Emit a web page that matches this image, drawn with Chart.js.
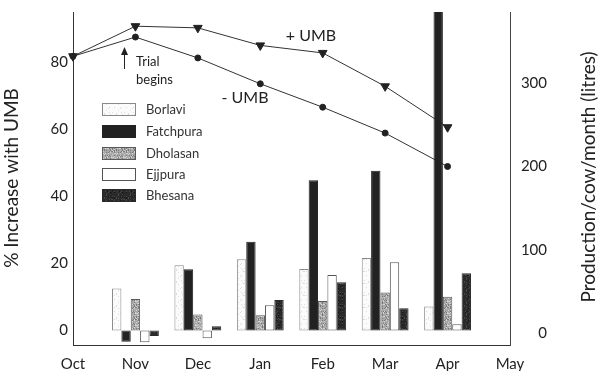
<!DOCTYPE html>
<html><head><meta charset="utf-8">
<script src="https://cdn.jsdelivr.net/npm/chart.js@4/dist/chart.umd.min.js"></script>
<style>html,body{margin:0;padding:0;background:#fff;}#wrap{width:600px;height:371px;}</style>
</head><body><div id="wrap"><canvas id="c" width="600" height="371"></canvas></div>
<script>
// ---- data ----
const months = ['Oct','Nov','Dec','Jan','Feb','Mar','Apr','May'];
const farmNames = ['Borlavi','Fatchpura','Dholasan','Ejjpura','Bhesana'];
// % increase with UMB (left axis)
const borlavi   = [null, 12.6, 19.5, 21.3, 18.4, 21.7,   7.2, null];
const fatchpura = [null, -3.3, 18.3, 26.5, 44.9, 47.7, 110.0, null];
const dholasan  = [null,  9.4,  4.8,  4.6,  8.8, 11.4,  10.1, null];
const ejjpura   = [null, -3.5, -2.3,  7.6, 16.6, 20.4,   1.9, null];
const bhesana   = [null, -1.6,  1.3,  9.1, 14.4,  6.7,  17.1, null];
// production / cow / month, litres (right axis)
const plusUMB  = [332, 368, 366, 345, 336, 296, 247, null];
const minusUMB = [332, 355, 330, 299, 271, 240, 200, null];
// tick labels
const leftTicks  = [0, 20, 40, 60, 80];
const rightTicks = [0, 100, 200, 300];

const FONT = 'Lato, "Open Sans", "DejaVu Sans", sans-serif';
Chart.defaults.font.family = FONT;
Chart.defaults.color = '#222';

// deterministic speckle texture (visual only)
function hash(x, y) { let h = (x * 374761393 + y * 668265263) | 0; h = (h ^ (h >>> 13)) * 1274126177; return ((h ^ (h >>> 16)) >>> 0) % 100; }
function makePattern(bg, specks) {
  const N = 12;
  const c = document.createElement('canvas'); c.width = N; c.height = N;
  const g = c.getContext('2d');
  g.fillStyle = bg; g.fillRect(0, 0, N, N);
  for (let y = 0; y < N; y++) for (let x = 0; x < N; x++) {
    const h = hash(x, y);
    let acc = 0;
    for (const [col, pct] of specks) { acc += pct; if (h < acc) { g.fillStyle = col; g.fillRect(x, y, 1, 1); break; } }
  }
  return g.createPattern(c, 'repeat');
}
const fills = [
  makePattern('#fbfbfb', [['#dddddd', 10]]),
  '#222222',
  makePattern('#a9a9a9', [['#7a7a7a', 22], ['#d2d2d2', 18]]),
  '#ffffff',
  makePattern('#2a2a2a', [['#474747', 18], ['#151515', 10]])
];
const borders = ['#8a8a8a', '#222222', '#5a5a5a', '#555', '#2a2a2a'];
const barSeries = [borlavi, fatchpura, dholasan, ejjpura, bhesana];

const barDatasets = barSeries.map((d, i) => ({
  type: 'bar', label: farmNames[i], data: d, yAxisID: 'y',
  backgroundColor: fills[i], borderColor: borders[i], borderWidth: 1,
  borderSkipped: false, categoryPercentage: 0.75, barPercentage: 1.0, order: 0
}));

const lineDatasets = [
  { type: 'line', label: '+ UMB', data: plusUMB, yAxisID: 'y2', borderColor: '#333', borderWidth: 1,
    pointStyle: 'triangle', rotation: 180, pointRadius: 5, pointBackgroundColor: '#222', pointBorderColor: '#222',
    pointBorderWidth: 1, tension: 0, order: 1, clip: false, fill: false },
  { type: 'line', label: '- UMB', data: minusUMB, yAxisID: 'y2', borderColor: '#333', borderWidth: 1,
    pointStyle: 'circle', pointRadius: 3, pointBackgroundColor: '#222', pointBorderColor: '#222',
    tension: 0, order: 1, clip: false, fill: false }
];

const decor = {
  id: 'decor',
  afterDraw(chart) {
    const ctx = chart.ctx;
    const ca = chart.chartArea;
    ctx.save();
    // legend
    const bx = ca.left + 29, bw = 34, bh = 13;
    const rowsY = [103, 125, 147, 168, 189];
    ctx.font = '13px ' + FONT;
    ctx.textBaseline = 'middle';
    ctx.textAlign = 'left';
    barDatasets.forEach((ds, i) => {
      const y = rowsY[i];
      ctx.fillStyle = ds.backgroundColor;
      ctx.fillRect(bx, y, bw, bh);
      ctx.strokeStyle = ds.borderColor; ctx.lineWidth = 1;
      ctx.strokeRect(bx + 0.5, y + 0.5, bw - 1, bh - 1);
      ctx.fillStyle = '#333';
      ctx.fillText(ds.label, bx + 44, y + bh / 2);
    });
    // line annotations
    ctx.fillStyle = '#222';
    ctx.font = '16px ' + FONT;
    ctx.textAlign = 'center';
    ctx.fillText('+ UMB', 311, 36);
    ctx.fillText('- UMB', 245, 98);
    ctx.font = '13px ' + FONT;
    ctx.textAlign = 'left';
    ctx.fillText('Trial', 136, 62);
    ctx.fillText('begins', 136, 80);
    // arrow
    ctx.strokeStyle = '#222'; ctx.lineWidth = 1;
    ctx.beginPath(); ctx.moveTo(124.5, 69); ctx.lineTo(124.5, 52); ctx.stroke();
    ctx.beginPath(); ctx.moveTo(124.5, 47); ctx.lineTo(121, 55); ctx.lineTo(128, 55); ctx.closePath();
    ctx.fillStyle = '#222'; ctx.fill();
    // axis titles
    ctx.font = '19px ' + FONT;
    ctx.fillStyle = '#222';
    ctx.textAlign = 'center'; ctx.textBaseline = 'middle';
    ctx.save(); ctx.translate(12, 178); ctx.rotate(-Math.PI / 2);
    ctx.fillText('% Increase with UMB', 0, 0); ctx.restore();
    ctx.save(); ctx.translate(589, 177); ctx.rotate(-Math.PI / 2);
    ctx.fillText('Production/cow/month (litres)', 0, 0); ctx.restore();
    ctx.restore();
  }
};

function noPad(s) { s.paddingTop = 0; s.paddingBottom = 0; s.paddingLeft = 0; s.paddingRight = 0; }

new Chart(document.getElementById('c'), {
  data: { labels: months, datasets: [...lineDatasets, ...barDatasets] },
  options: {
    responsive: false, animation: false, devicePixelRatio: 1,
    layout: { padding: { top: 12, left: 0, right: 53, bottom: 0 } },
    plugins: { legend: { display: false }, tooltip: { enabled: false } },
    scales: {
      x: {
        type: 'category', offset: false,
        grid: { display: false, drawTicks: false },
        border: { display: true, color: '#333', width: 1 },
        ticks: { font: { size: 15 }, color: '#222', padding: 10, maxRotation: 0, autoSkip: false },
        afterFit(s) { s.height = 26; noPad(s); }
      },
      y: {
        position: 'left', min: -4.3, max: 95.1,
        grid: { display: false, drawTicks: false },
        border: { display: true, color: '#333', width: 1 },
        ticks: { font: { size: 15 }, color: '#222', padding: 5 },
        afterBuildTicks(s) { s.ticks = leftTicks.map(v => ({ value: v })); },
        afterFit(s) { s.width = 73; noPad(s); }
      },
      y2: {
        position: 'right', min: -13.8, max: 385,
        grid: { display: false, drawTicks: false },
        border: { display: true, color: '#444', width: 1 },
        ticks: { font: { size: 15 }, color: '#222', padding: 12, crossAlign: 'far' },
        afterBuildTicks(s) { s.ticks = rightTicks.map(v => ({ value: v })); },
        afterFit(s) { s.width = 37; noPad(s); }
      }
    }
  },
  plugins: [decor]
});
</script>
</body></html>
